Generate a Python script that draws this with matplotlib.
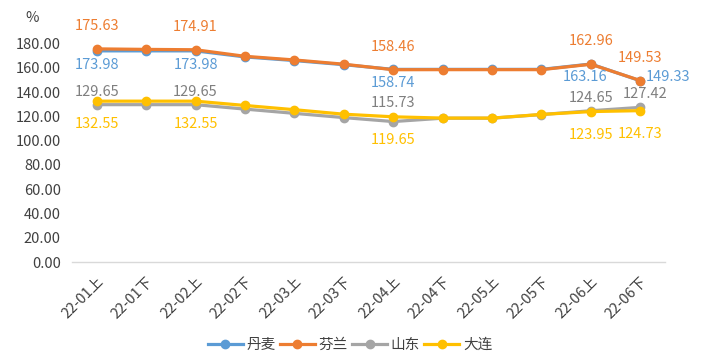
import matplotlib
matplotlib.use("Agg")
from matplotlib import pyplot as plt

plt.rcParams['font.family'] = ['Noto Sans CJK SC', 'DejaVu Sans']

periods = ['22-01上', '22-01下', '22-02上', '22-02下', '22-03上', '22-03下',
           '22-04上', '22-04下', '22-05上', '22-05下', '22-06上', '22-06下']

denmark = [173.98, 173.98, 173.98, 169.0, 166.0, 162.6, 158.74, 158.74, 158.74, 158.74, 163.16, 149.33]
finland = [175.63, 175.2, 174.91, 169.5, 166.5, 163.0, 158.46, 158.5, 158.5, 158.5, 162.96, 149.53]
shandong = [129.65, 129.65, 129.65, 126.0, 122.5, 119.0, 115.73, 118.5, 118.5, 121.5, 124.65, 127.42]
dalian = [132.55, 132.55, 132.55, 129.0, 125.5, 121.8, 119.65, 118.6, 118.6, 121.6, 123.95, 124.73]

names = ['丹麦', '芬兰', '山东', '大连']
labelled = [0, 2, 6, 10, 11]

COLORS = ['#5B9BD5', '#ED7D31', '#A5A5A5', '#FFC000']
LABEL_COLORS = ['#5B9BD5', '#ED7D31', '#7F7F7F', '#FFC000']
# label offsets in pixels (dx, dy) per series, with per-point overrides
OFFSETS = [(0, -14), (0, 23), (0, 13), (0, -23)]
OVERRIDES = {(0, 10): (-6, -13), (0, 11): (28, 4), (2, 6): (0, 19), (2, 11): (5, 13)}
FS = 10.5


def main():
    fig = plt.figure(figsize=(7.11, 3.58), dpi=100)
    ax = fig.add_axes([72 / 711, 96 / 358, 593 / 711, (262 - 37.5) / 358])
    x = range(len(periods))
    series = [denmark, finland, shandong, dalian]

    for i, (name, vals) in enumerate(zip(names, series)):
        ax.plot(x, vals, '-o', color=COLORS[i], lw=2.3, ms=6, label=name, zorder=3 + i)

    for i, vals in enumerate(series):
        for j in labelled:
            dx, dy = OVERRIDES.get((i, j), OFFSETS[i])
            ax.annotate(f"{vals[j]:.2f}", (j, vals[j]), textcoords='offset pixels',
                        xytext=(dx, dy), ha='center', va='center', fontsize=FS,
                        color=LABEL_COLORS[i], annotation_clip=False, zorder=10)

    ax.set_xlim(-0.5, len(periods) - 0.5)
    ax.set_ylim(0, 185)
    ax.set_yticks(range(0, 181, 20))
    ax.set_yticklabels([f"{v:.2f}" for v in range(0, 181, 20)], fontsize=FS, color='#404040')
    ax.set_xticks(list(x))
    ax.set_xticklabels(periods, rotation=45, ha='right', va='top', rotation_mode='anchor',
                       fontsize=FS, color='#404040')
    ax.tick_params(axis='both', length=0)
    ax.tick_params(axis='x', pad=9)
    ax.tick_params(axis='y', pad=8)

    for side in ['left', 'right', 'top']:
        ax.spines[side].set_visible(False)
    ax.spines['bottom'].set_color('#D9D9D9')
    ax.spines['bottom'].set_linewidth(1)

    fig.text(32 / 711, 1 - 18 / 358, '%', ha='center', va='center', fontsize=FS, color='#404040')

    fig.legend(loc='center', bbox_to_anchor=(350 / 711, 1 - 345 / 358), ncol=4, frameon=False,
               fontsize=FS, handlelength=2.4, handletextpad=0.25, columnspacing=0.3,
               labelcolor='#404040')

    fig.savefig('out.png', dpi=100)


if __name__ == '__main__':
    main()
